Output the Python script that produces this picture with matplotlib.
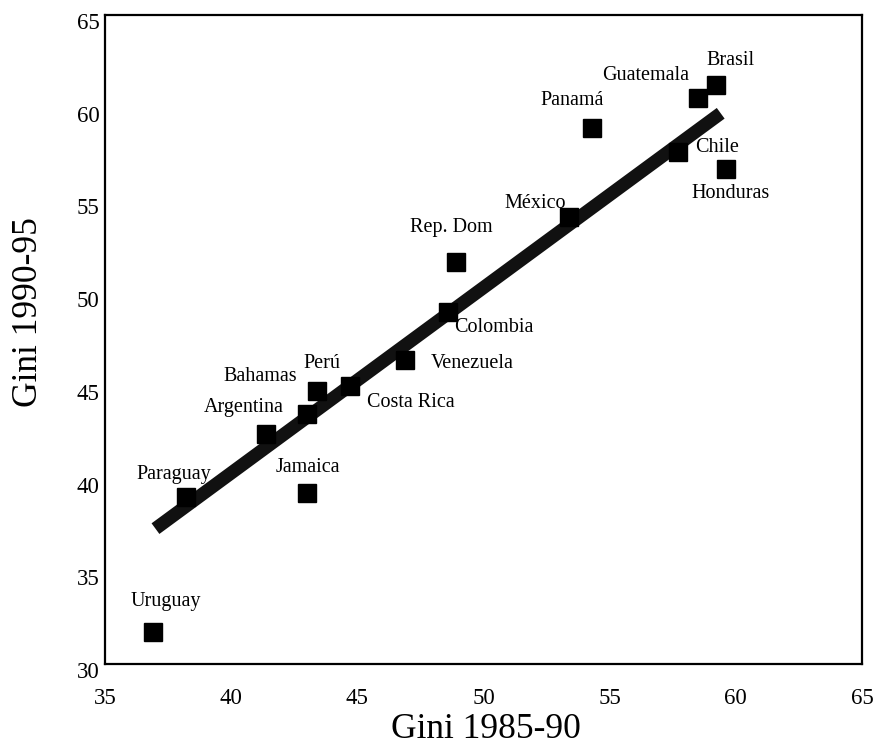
import matplotlib
matplotlib.use("Agg")
import matplotlib.pyplot as plt
from matplotlib.transforms import ScaledTranslation

plt.rcParams['font.family'] = ['Liberation Serif', 'DejaVu Serif']

# Gini coefficients by country
countries = ["Uruguay", "Paraguay", "Jamaica", "Argentina", "Bahamas", "Perú",
             "Costa Rica", "Venezuela", "Colombia", "Rep. Dom", "México",
             "Panamá", "Guatemala", "Brasil", "Chile", "Honduras"]
gini_8590 = [36.9, 38.2, 43.0, 41.4, 43.0, 43.4, 44.7, 46.9, 48.6, 48.9, 53.4,
             54.3, 58.5, 59.2, 57.7, 59.6]
gini_9095 = [31.7, 39.0, 39.2, 42.4, 43.5, 44.7, 45.0, 46.4, 49.0, 51.7, 54.1,
             58.9, 60.5, 61.2, 57.6, 56.7]

# Regression line end points
fit_x = [37.0, 59.4]
fit_y = [37.3, 59.7]

# Label offsets from each marker, in pixels (dx right, dy up)
label_offsets = [(13, 31), (-12, 23), (1, 26), (-23, 27), (-47, 37), (5, 28),
                 (61, -17), (67, -4), (46, -16), (-4, 34), (-34, 14),
                 (-20, 28), (-52, 23), (15, 25), (39, 5), (5, -25)]

W, H, DPI = 878, 749, 100
fig = plt.figure(figsize=(W / DPI, H / DPI), dpi=DPI)
ax = fig.add_axes([105 / W, (H - 664) / H, 757 / W, 649 / H])

ax.plot(fit_x, fit_y, color='#111111', lw=9.5, solid_capstyle='butt', zorder=2)
ax.plot(gini_8590, gini_9095, ls='none', marker='s', ms=12.5, color='black',
        mec='black', zorder=3)

px = 72 / DPI
for name, x, y, (dx, dy) in zip(countries, gini_8590, gini_9095, label_offsets):
    ax.annotate(name, (x, y), xytext=(dx * px, dy * px), textcoords='offset points',
                ha='center', va='center', fontsize=14.5, zorder=4)

ax.set_xlim(35, 65)
ax.set_ylim(30, 65)
ax.set_xticks([35, 40, 45, 50, 55, 60, 65])
ax.set_yticks([30, 35, 40, 45, 50, 55, 60, 65])
ax.tick_params(length=0, labelsize=16.5)
ax.tick_params(axis='x', pad=17)
ax.tick_params(axis='y', pad=4)
for lab in ax.get_yticklabels():
    lab.set_transform(lab.get_transform() + ScaledTranslation(0, -6 / DPI, fig.dpi_scale_trans))

for s in ax.spines.values():
    s.set_linewidth(1.6)
    s.set_color('black')

fig.text(486 / W, 1 - 729 / H, "Gini 1985-90", ha='center', va='center', fontsize=25.5)
fig.text(29 / W, 1 - 312 / H, "Gini 1990-95", ha='center', va='center',
         rotation=90, fontsize=25.5)

fig.savefig("out.png", dpi=DPI, facecolor='white')
